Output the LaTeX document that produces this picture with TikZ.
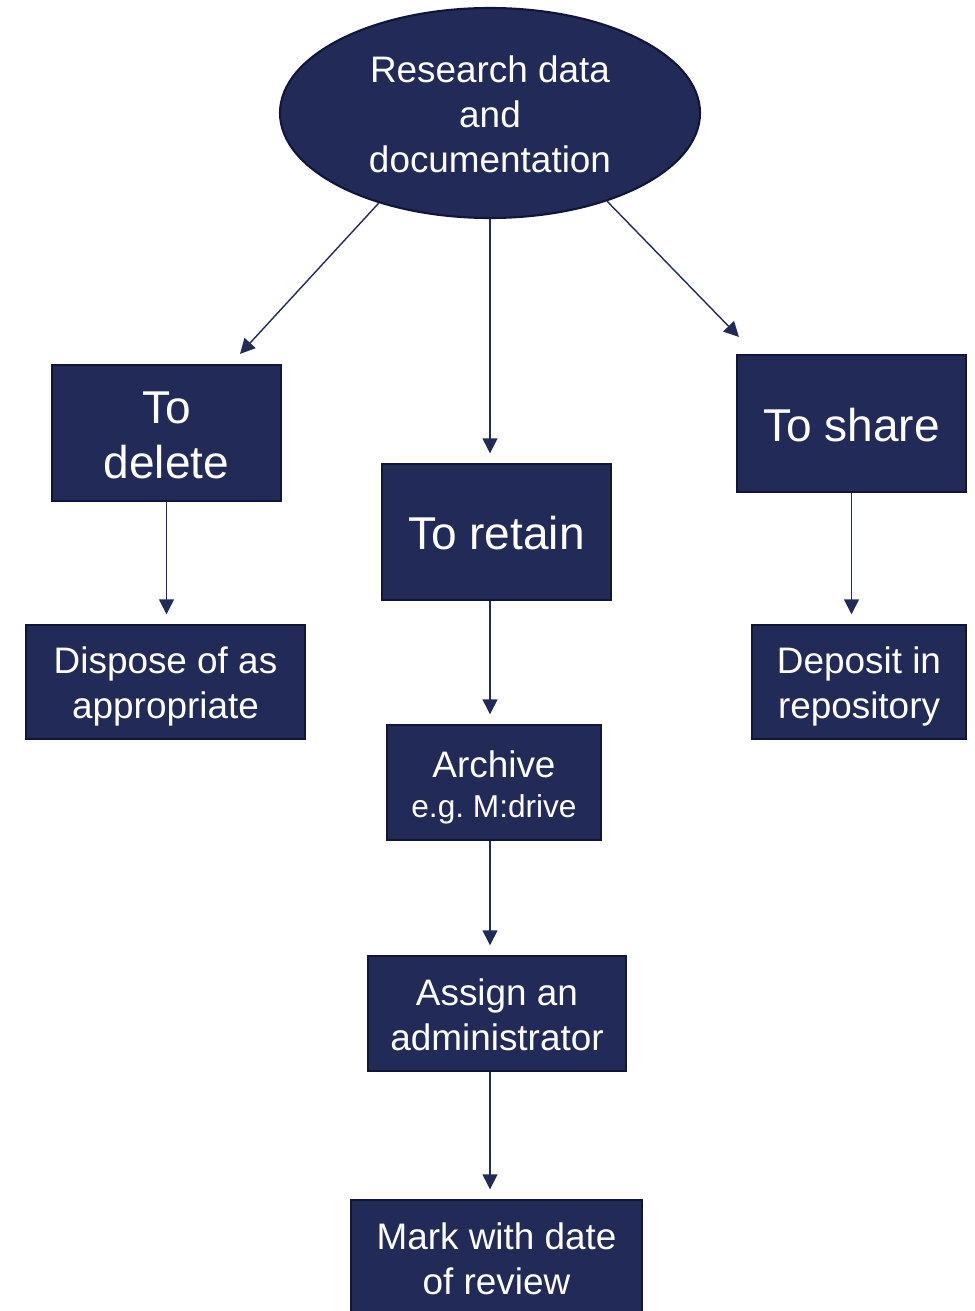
\documentclass[tikz,border=0pt]{standalone}
\usepackage{fontspec}
\setmainfont{Liberation Sans}
\usepackage{xcolor}
\usetikzlibrary{arrows.meta,shapes.geometric,calc}

\definecolor{navy}{HTML}{222B58}
\definecolor{navyedge}{HTML}{10163A}

% struts: full ascent on first lines, descender depth on last lines
\newcommand{\asc}{\rule{0pt}{0.98em}}
\newcommand{\dsc}{\vphantom{g}}

\begin{document}
\begin{tikzpicture}[x=0.02cm, y=-0.02cm,
  box/.style={draw=navyedge, line width=1.2pt, fill=navy, text=white,
    align=center, inner sep=0pt},
  small/.style={font=\fontsize{21}{25.6}\selectfont},
  big/.style={font=\fontsize{26.2}{31.3}\selectfont},
  flow/.style={-{Triangle[length=8.5pt,width=8.5pt]}, navy, line width=0.8pt,
    shorten >=5.5pt}]

\useasboundingbox (0,0) rectangle (974,1311);

% Top: the data itself
\node[box, small, ellipse, minimum width=420*0.02cm, minimum height=210*0.02cm]
  (root) at (490,113) {\asc Research data\\and\\documentation\dsc};

% Three ways to go
\node[box, big, minimum width=229*0.02cm, minimum height=136*0.02cm]
  (del) at (166.5,433) {\asc To\\delete\dsc};
\node[box, big, minimum width=229*0.02cm, minimum height=136*0.02cm]
  (retain) at (496.5,532) {\asc To retain\dsc};
\node[box, big, minimum width=229*0.02cm, minimum height=137*0.02cm]
  (share) at (851.5,423.5) {\asc To share\dsc};

% Next steps
\node[box, small, minimum width=279*0.02cm, minimum height=114*0.02cm]
  (dispose) at (165.5,682) {\asc Dispose of as\\appropriate};
\node[box, small, minimum width=214*0.02cm, minimum height=114*0.02cm]
  (deposit) at (859,682) {\asc Deposit in\\repository};

% Retain chain
\node[box, small, minimum width=214*0.02cm, minimum height=115*0.02cm]
  (archive) at (494,782.5) {\asc Archive\\[-3pt]{\fontsize{18}{22}\selectfont e.g.\ M:drive}};
\node[box, small, minimum width=258*0.02cm, minimum height=115*0.02cm]
  (assign) at (497,1013.5) {\asc Assign an\\administrator\dsc};
\node[box, small, minimum width=291*0.02cm, minimum height=116*0.02cm]
  (mark) at (496.5,1258) {\asc Mark with date\\of review\dsc};

% Arrows out of the ellipse
\draw[flow, shorten >=0pt] (root.219) -- ($(del.north)+(73.5,-10)$);
\draw[flow] (root.south) -- (root.south |- retain.north);
\draw[flow, shorten >=0pt] (root.323) -- ($(share.north west)+(3,-17)$);

% Arrows down each column
\draw[flow] (del.south) -- (del.south |- dispose.north);
\draw[flow] (retain.south -| root.south) -- (archive.north -| root.south);
\draw[flow] (archive.south -| root.south) -- (assign.north -| root.south);
\draw[flow] (assign.south -| root.south) -- (mark.north -| root.south);
\draw[flow] (share.south) -- (share.south |- deposit.north);

\end{tikzpicture}
\end{document}
